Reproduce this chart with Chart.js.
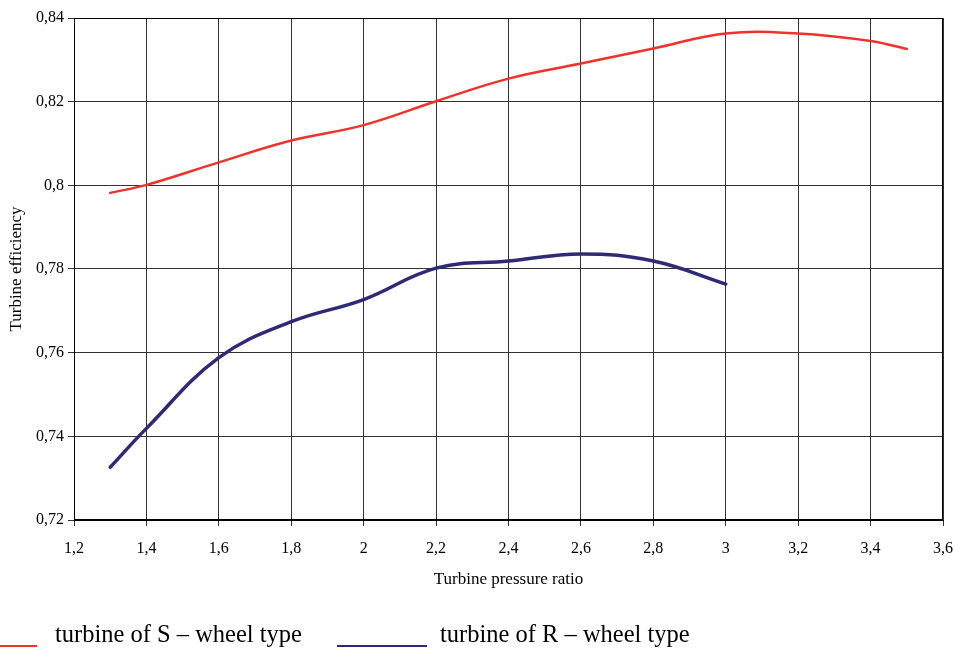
<!DOCTYPE html>
<html>
<head>
<meta charset="utf-8">
<script src="https://cdn.jsdelivr.net/npm/chart.js@4"></script>
<style>
  body { margin: 0; background: #fff; }
  #wrap { position: relative; width: 955px; height: 648px; }
  #legend { position: absolute; left: 0; top: 620px; width: 955px; height: 28px;
            font-family: "Liberation Serif", serif; font-size: 24.5px; color: #000; }
  .item { position: absolute; top: 0; white-space: nowrap; }
  .swatch { position: absolute; height: 2px; top: 25px; }
</style>
</head>
<body>
<div id="wrap">
  <canvas id="chart" width="955" height="648"></canvas>
  <div id="legend"></div>
</div>
<script>
// tick values of both axes
const xTicks = [1.2, 1.4, 1.6, 1.8, 2.0, 2.2, 2.4, 2.6, 2.8, 3.0, 3.2, 3.4, 3.6];
const yTicks = [0.72, 0.74, 0.76, 0.78, 0.80, 0.82, 0.84];

// turbine of S - wheel type
const sRatio = [1.3, 1.4, 1.6, 1.8, 2.0, 2.2, 2.4, 2.6, 2.8, 3.0, 3.2, 3.4, 3.5];
const sEff = [0.7982, 0.8001, 0.8055, 0.8107, 0.8144, 0.8201, 0.8255, 0.8291, 0.8327, 0.8363, 0.8363, 0.8345, 0.8326];

// turbine of R - wheel type
const rRatio = [1.3, 1.4, 1.6, 1.8, 2.0, 2.2, 2.4, 2.6, 2.8, 3.0];
const rEff = [0.7326, 0.7419, 0.7588, 0.7674, 0.7727, 0.7802, 0.7819, 0.7836, 0.7819, 0.7764];

const seriesNames = ['turbine of S \u2013 wheel type', 'turbine of R \u2013 wheel type'];
const seriesColors = ['rgb(240, 50, 45)', 'rgb(46, 42, 118)'];

const tickFont = { family: '"Liberation Serif", serif', size: 16 };
const titleFont = { family: '"Liberation Serif", serif', size: 17 };
const comma = v => String(Number(v.toFixed(2))).replace('.', ',');

const datasets = [
    { label: seriesNames[0], data: sRatio.map((x, i) => ({ x: x, y: sEff[i] })),
      borderColor: seriesColors[0], borderWidth: 2.5 },
    { label: seriesNames[1], data: rRatio.map((x, i) => ({ x: x, y: rEff[i] })),
      borderColor: seriesColors[1], borderWidth: 3.5 }
];

new Chart(document.getElementById('chart'), {
    type: 'line',
    data: { datasets: datasets.map(d => Object.assign(d, {
        fill: false, tension: 0.4, pointRadius: 0, borderCapStyle: 'round'
    })) },
    options: {
        responsive: false,
        animation: false,
        layout: { padding: { top: 18, right: 12, bottom: 58, left: 0 } },
        plugins: { legend: { display: false }, tooltip: { enabled: false } },
        scales: {
            x: {
                type: 'linear', min: 1.2, max: 3.6,
                afterBuildTicks: s => { s.ticks = xTicks.map(v => ({ value: v })); },
                afterFit: s => { s.height = 70; s.paddingLeft = 0; s.paddingRight = 0; },
                border: { color: '#000', width: 1 },
                grid: { color: '#333', lineWidth: 1, tickLength: 6 },
                ticks: { font: tickFont, color: '#000', padding: 13, maxRotation: 0, callback: comma },
                title: { display: true, text: 'Turbine pressure ratio', font: titleFont, color: '#000',
                         padding: { top: 0, bottom: 0 } }
            },
            y: {
                min: 0.72, max: 0.84,
                afterBuildTicks: s => { s.ticks = yTicks.map(v => ({ value: v })); },
                afterFit: s => { s.width = 74; },
                border: { color: '#000', width: 1 },
                grid: { color: '#333', lineWidth: 1, tickLength: 6 },
                ticks: { font: tickFont, color: '#000', padding: 4, callback: comma },
                title: { display: true, text: 'Turbine efficiency', font: titleFont, color: '#000',
                         padding: { top: 6, bottom: 0 } }
            }
        }
    },
    plugins: [{
        id: 'frame',
        afterDraw(chart) {
            const a = chart.chartArea, c = chart.ctx;
            c.save();
            c.strokeStyle = '#000';
            c.lineWidth = 1;
            c.strokeRect(a.left + 0.5, a.top + 0.5, a.width - 1, a.height - 1);
            c.restore();
        }
    }]
});

// legend below the plot
const legendPos = [{ line: 0, lineW: 37, text: 55 }, { line: 337, lineW: 90, text: 440 }];
const legend = document.getElementById('legend');
seriesNames.forEach((name, i) => {
    const sw = document.createElement('div');
    sw.className = 'swatch';
    sw.style.left = legendPos[i].line + 'px';
    sw.style.width = legendPos[i].lineW + 'px';
    sw.style.background = seriesColors[i];
    legend.appendChild(sw);
    const t = document.createElement('div');
    t.className = 'item';
    t.style.left = legendPos[i].text + 'px';
    t.textContent = name;
    legend.appendChild(t);
});
</script>
</body>
</html>
